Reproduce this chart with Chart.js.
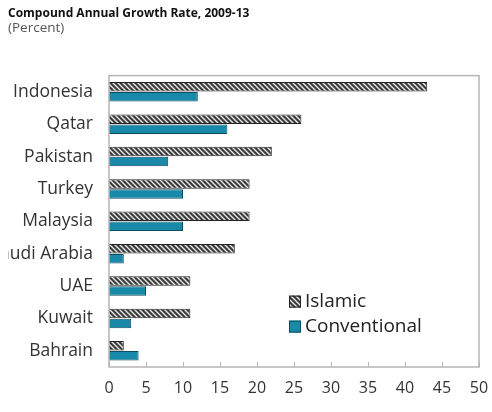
<!DOCTYPE html>
<html>
<head>
<meta charset="utf-8">
<script src="https://cdn.jsdelivr.net/npm/chart.js@4.4.1/dist/chart.umd.min.js"></script>
<style>
  html, body { margin: 0; padding: 0; background: #fff; }
  #wrap { position: relative; width: 492px; height: 412px; }
</style>
</head>
<body>
<div id="wrap"><canvas id="chart" width="492" height="412"></canvas></div>
<script>
const countries = ['Indonesia', 'Qatar', 'Pakistan', 'Turkey', 'Malaysia', 'Saudi Arabia', 'UAE', 'Kuwait', 'Bahrain'];
const islamic = [43, 26, 22, 19, 19, 17, 11, 11, 2];
const conventional = [12, 16, 8, 10, 10, 2, 5, 3, 4];
const xTicks = [0, 5, 10, 15, 20, 25, 30, 35, 40, 45, 50];

// diagonal hatch for the Islamic bars
function makeHatch() {
  const c = document.createElement('canvas');
  c.width = 5; c.height = 5;
  const g = c.getContext('2d');
  g.fillStyle = '#3a3a3a';
  g.fillRect(0, 0, 5, 5);
  g.strokeStyle = '#e8e8e8';
  g.lineWidth = 1.4;
  g.beginPath();
  g.moveTo(-1, -1); g.lineTo(6, 6);
  g.moveTo(-1, 4); g.lineTo(1, 6);
  g.moveTo(4, -1); g.lineTo(6, 1);
  g.stroke();
  return g.createPattern(c, 'repeat');
}
const hatch = makeHatch();

const framePlugin = {
  id: 'frame',
  afterDraw(chart) {
    const { ctx, chartArea: a, scales } = chart;
    ctx.save();
    ctx.strokeStyle = '#b5b5b5';
    ctx.lineWidth = 1.5;
    ctx.strokeRect(a.left, a.top, a.right - a.left, a.bottom - a.top);
    // small inner ticks on the x axis
    ctx.lineWidth = 1;
    xTicks.forEach(v => {
      const x = Math.round(scales.x.getPixelForValue(v)) + 0.5;
      ctx.beginPath();
      ctx.moveTo(x, a.bottom);
      ctx.lineTo(x, a.bottom - 5);
      ctx.stroke();
    });

    // legend inside the plot
    const items = chart.data.datasets;
    let y = a.top + 226;
    items.forEach(ds => {
      ctx.fillStyle = ds.backgroundColor;
      ctx.fillRect(a.left + 180, y - 6, 12, 12);
      ctx.strokeStyle = ds.borderColor;
      ctx.strokeRect(a.left + 180.5, y - 5.5, 11, 11);
      ctx.fillStyle = '#222';
      ctx.font = '19px "Open Sans"';
      ctx.textBaseline = 'middle';
      ctx.fillText(ds.label, a.left + 196, y);
      y += 25;
    });
    ctx.restore();
  }
};

new Chart(document.getElementById('chart'), {
  type: 'bar',
  data: {
    labels: countries,
    datasets: [
      {
        label: 'Islamic',
        data: islamic,
        backgroundColor: hatch,
        borderColor: '#222',
        borderWidth: 1,
        categoryPercentage: 0.62,
        barPercentage: 0.95
      },
      {
        label: 'Conventional',
        data: conventional,
        backgroundColor: '#1889a8',
        borderColor: '#0c4c5d',
        borderWidth: 1,
        categoryPercentage: 0.62,
        barPercentage: 0.95
      }
    ]
  },
  options: {
    indexAxis: 'y',
    responsive: false,
    animation: false,
    layout: { padding: { left: 8, right: 13, top: 0, bottom: 0 } },
    plugins: {
      legend: { display: false },
      tooltip: { enabled: false },
      title: {
        display: true,
        text: 'Compound Annual Growth Rate, 2009-13',
        align: 'start',
        color: '#111',
        font: { family: '"Open Sans"', size: 12, weight: 'bold' },
        padding: { top: 6, bottom: 0 }
      },
      subtitle: {
        display: true,
        text: '(Percent)',
        align: 'start',
        color: '#555',
        font: { family: '"Open Sans"', size: 13.5 },
        padding: { top: 0, bottom: 39 }
      }
    },
    scales: {
      x: {
        min: 0,
        max: 50,
        afterBuildTicks(scale) { scale.ticks = xTicks.map(v => ({ value: v })); },
        afterFit(scale) {
          scale.height = 45;
          scale.paddingLeft = 0;
          scale.paddingRight = 0;
        },
        grid: { display: false, drawTicks: false },
        border: { display: false },
        ticks: {
          padding: 12,
          color: '#333',
          font: { family: '"Open Sans"', size: 16 }
        }
      },
      y: {
        afterFit(scale) { scale.width = 101; },
        grid: { display: false, drawTicks: false },
        border: { display: false },
        ticks: {
          padding: 16,
          color: '#333',
          font: { family: '"Open Sans"', size: 17.5 }
        }
      }
    }
  },
  plugins: [framePlugin]
});
</script>
</body>
</html>
